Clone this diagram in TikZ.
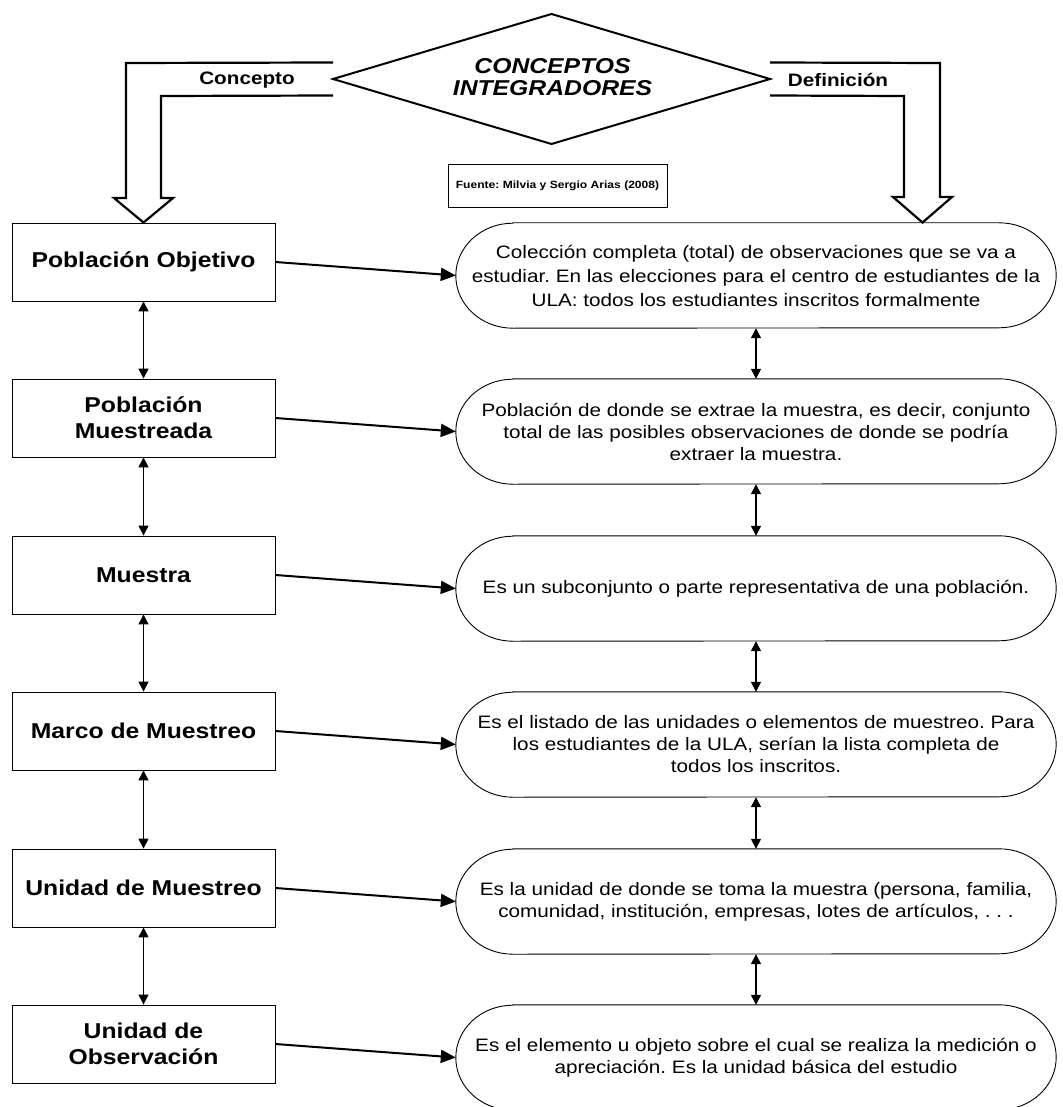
\documentclass[tikz,border=0pt]{standalone}
\usepackage{fontspec}
\setmainfont{Liberation Sans}[FakeStretch=1.15]
\usetikzlibrary{arrows.meta}
\newcommand\fsz[2]{\fontsize{#1}{#2}\selectfont}
\frenchspacing
\begin{document}
\begin{tikzpicture}[x=1pt,y=-1pt,
  concept/.style={draw, line width=0.9pt, minimum width=263pt, minimum height=78pt, inner sep=0pt, align=center, font=\fsz{21.5}{26}\bfseries},
  term/.style={minimum width=600pt, minimum height=105pt, inner sep=0pt, align=center, font=\fsz{18}{22}},
  termline/.style={line width=0.9pt},
  link/.style={line width=2pt, -{Triangle[length=15pt,width=13pt]}},
  updown/.style={line width=1.4pt, {Triangle[length=10pt,width=10pt]}-{Triangle[length=10pt,width=10pt]}},
  blockarrow/.style={line width=2.2pt, line join=miter},
  lbl/.style={font=\fsz{18}{20}\bfseries, inner sep=0pt}
]
\useasboundingbox (0,0) rectangle (1062,1107);

% central diamond
\coordinate (dN) at (551.5,14);
\coordinate (dE) at (770,79);
\coordinate (dS) at (551.5,144);
\coordinate (dW) at (333,79);
\draw[line width=2pt, line join=miter] (dN) -- (dE) -- (dS) -- (dW) -- cycle;
\node[align=center, inner sep=0pt, font=\fsz{21.5}{21.5}\bfseries\itshape] (dia) at (552.5,77) {CONCEPTOS\\INTEGRADORES};

% source box
\node[draw, line width=0.8pt, minimum width=219pt, minimum height=43pt, inner sep=0pt, font=\fsz{10.5}{12}\bfseries] (src) at (557.5,185.5) {Fuente: Milvia y Sergio Arias (2008)};

% concept boxes
\node[concept] (c1) at (143.5,262) {Población Objetivo};
\node[concept] (c2) at (143.5,418) {Población\\Muestreada};
\node[concept] (c3) at (143.5,575) {Muestra};
\node[concept] (c4) at (143.5,731) {Marco de Muestreo};
\node[concept] (c5) at (143.5,888) {Unidad de Muestreo};
\node[concept] (c6) at (143.5,1044) {Unidad de\\Observación};

% definition terminators
\node[term, font=\fsz{18}{24}] (t1) at (756,275.5) {Colección completa (total) de observaciones que se va a\\estudiar. En las elecciones para el centro de estudiantes de la\\ULA: todos los estudiantes inscritos formalmente};
\node[term] (t2) at (756,431.5) {Población de donde se extrae la muestra, es decir, conjunto\\total de las posibles observaciones de donde se podría\\extraer la muestra.};
\node[term] (t3) at (756,588.5) {Es un subconjunto o parte representativa de una población.};
\node[term] (t4) at (756,744.5) {Es el listado de las unidades o elementos de muestreo. Para\\los estudiantes de la ULA, serían la lista completa de\\todos los inscritos.};
\node[term] (t5) at (756,901.5) {Es la unidad de donde se toma la muestra (persona, familia,\\comunidad, institución, empresas, lotes de artículos, . . .};
\node[term] (t6) at (756,1057.5) {Es el elemento u objeto sobre el cual se realiza la medición o\\apreciación. Es la unidad básica del estudio};

\foreach \t in {t1,t2,t3,t4,t5,t6}{
  \draw[termline] ([xshift=57pt]\t.north west) -- ([xshift=-57pt]\t.north east)
    arc[start angle=90,end angle=-90,x radius=57pt,y radius=52.5pt]
    -- ([xshift=57pt]\t.south west)
    arc[start angle=270,end angle=90,x radius=57pt,y radius=52.5pt] -- cycle;
}

% block arrows
\coordinate (tipR) at (922.5,222.5);
\draw[blockarrow] ([yshift=16.5pt]dW) -- (126,63) -- (126,198) -- (114,198) -- (c1.north) -- (173,198) -- (161,198) -- (161,96) -- ([yshift=-16.5pt]dW);
\draw[blockarrow] ([yshift=16.5pt]dE) -- (940,63) -- (940,197) -- (952,197) -- (tipR) -- (893,197) -- (904,197) -- (904,96) -- ([yshift=-16.5pt]dE);

\node[lbl] (lc) at (247,80) {Concepto};
\node[lbl] (ld) at (838,80) {Definición};

% links
\foreach \i in {1,...,6}{
  \draw[link] (c\i.east) -- (t\i.west);
}
\foreach \i/\j in {1/2,2/3,3/4,4/5,5/6}{
  \draw[updown] (c\i.south) -- (c\j.north);
  \draw[updown] (t\i.south) -- (t\j.north);
}
\end{tikzpicture}
\end{document}
